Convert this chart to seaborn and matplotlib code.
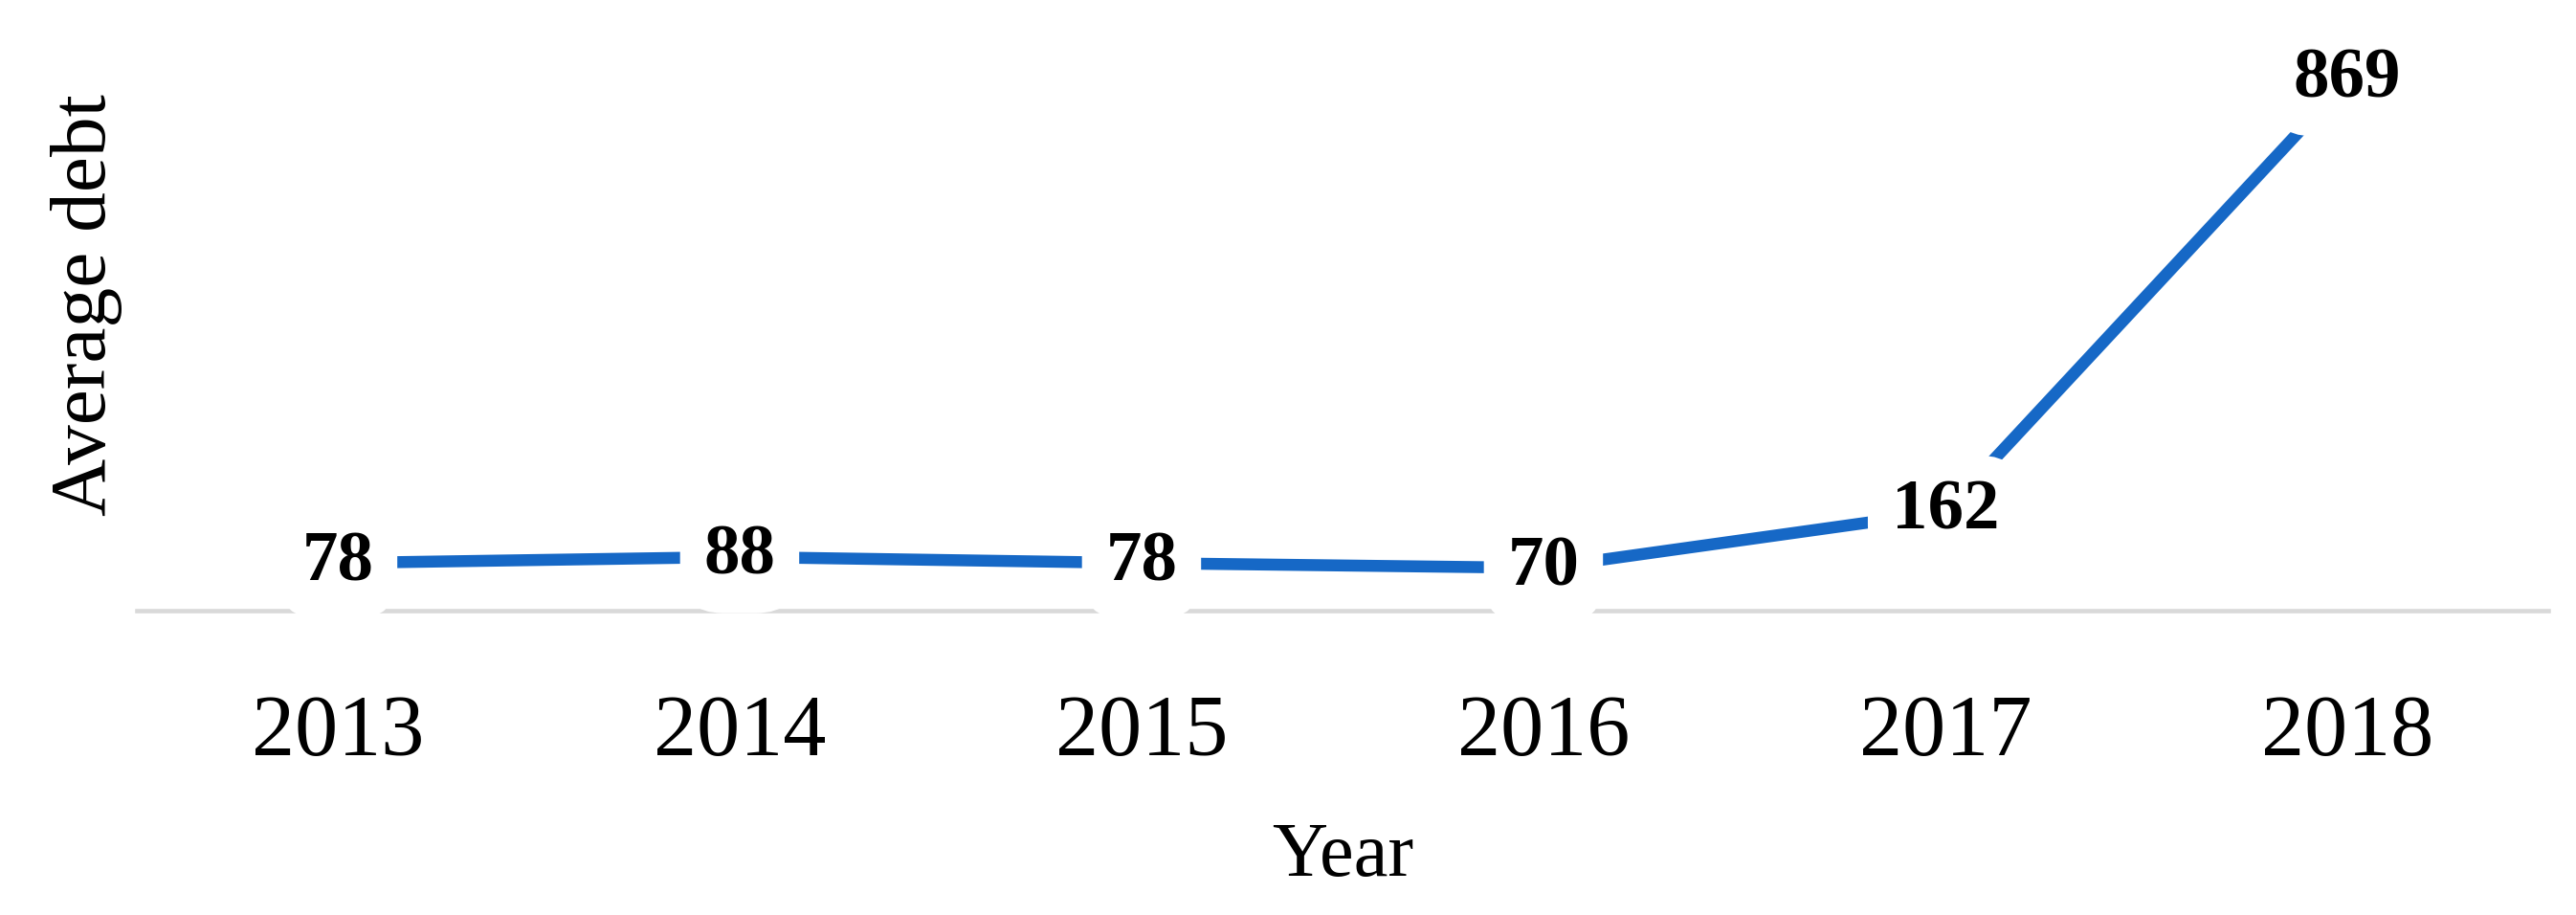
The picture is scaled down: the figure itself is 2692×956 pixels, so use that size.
import matplotlib
matplotlib.use("Agg")
import matplotlib.pyplot as plt
import seaborn as sns
import pandas as pd

years = ["2013", "2014", "2015", "2016", "2017", "2018"]
average_debt = [78, 88, 78, 70, 162, 869]
x_title = "Year"
y_title = "Average debt"

sns.set_style("white")
plt.rcParams["font.family"] = ["Liberation Serif", "DejaVu Serif"]
plt.rcParams["text.color"] = "black"
plt.rcParams["axes.labelcolor"] = "black"

df = pd.DataFrame({"Year": years, "Average debt": average_debt})

fig = plt.figure(figsize=(26.92, 9.56), dpi=100)
ax = fig.add_axes([0.0531, 0.3326, 0.9361, 0.6674])

sns.lineplot(data=df, x="Year", y="Average debt", ax=ax, color="#1668C6",
             linewidth=9.0, sort=False, zorder=2)

ax.set_xlim(-0.5, len(years) - 0.5)
ax.set_ylim(0, 1000)

for i, v in enumerate(average_debt):
    ax.text(i, v, str(v), ha="center", va="center", fontsize=54,
            fontweight="bold", color="#000000", zorder=4,
            bbox=dict(boxstyle="round,pad=0.33,rounding_size=0.6",
                      facecolor="white", edgecolor="none"))

for s in ["left", "top", "right"]:
    ax.spines[s].set_visible(False)
ax.spines["bottom"].set_color("#D9D9D9")
ax.spines["bottom"].set_linewidth(3.3)
ax.spines["bottom"].set_zorder(1)

ax.set_yticks([])
ax.tick_params(axis="x", length=0, pad=63, labelsize=65, colors="#000000")

ax.set_xlabel(x_title, fontsize=58, va="center", color="black")
ax.xaxis.set_label_coords(0.5, -0.404)
ax.set_ylabel(y_title, fontsize=60, va="center", color="black")
ax.yaxis.set_label_coords(-0.021, 0.5)

fig.savefig("out.png", dpi=100, facecolor="white")
